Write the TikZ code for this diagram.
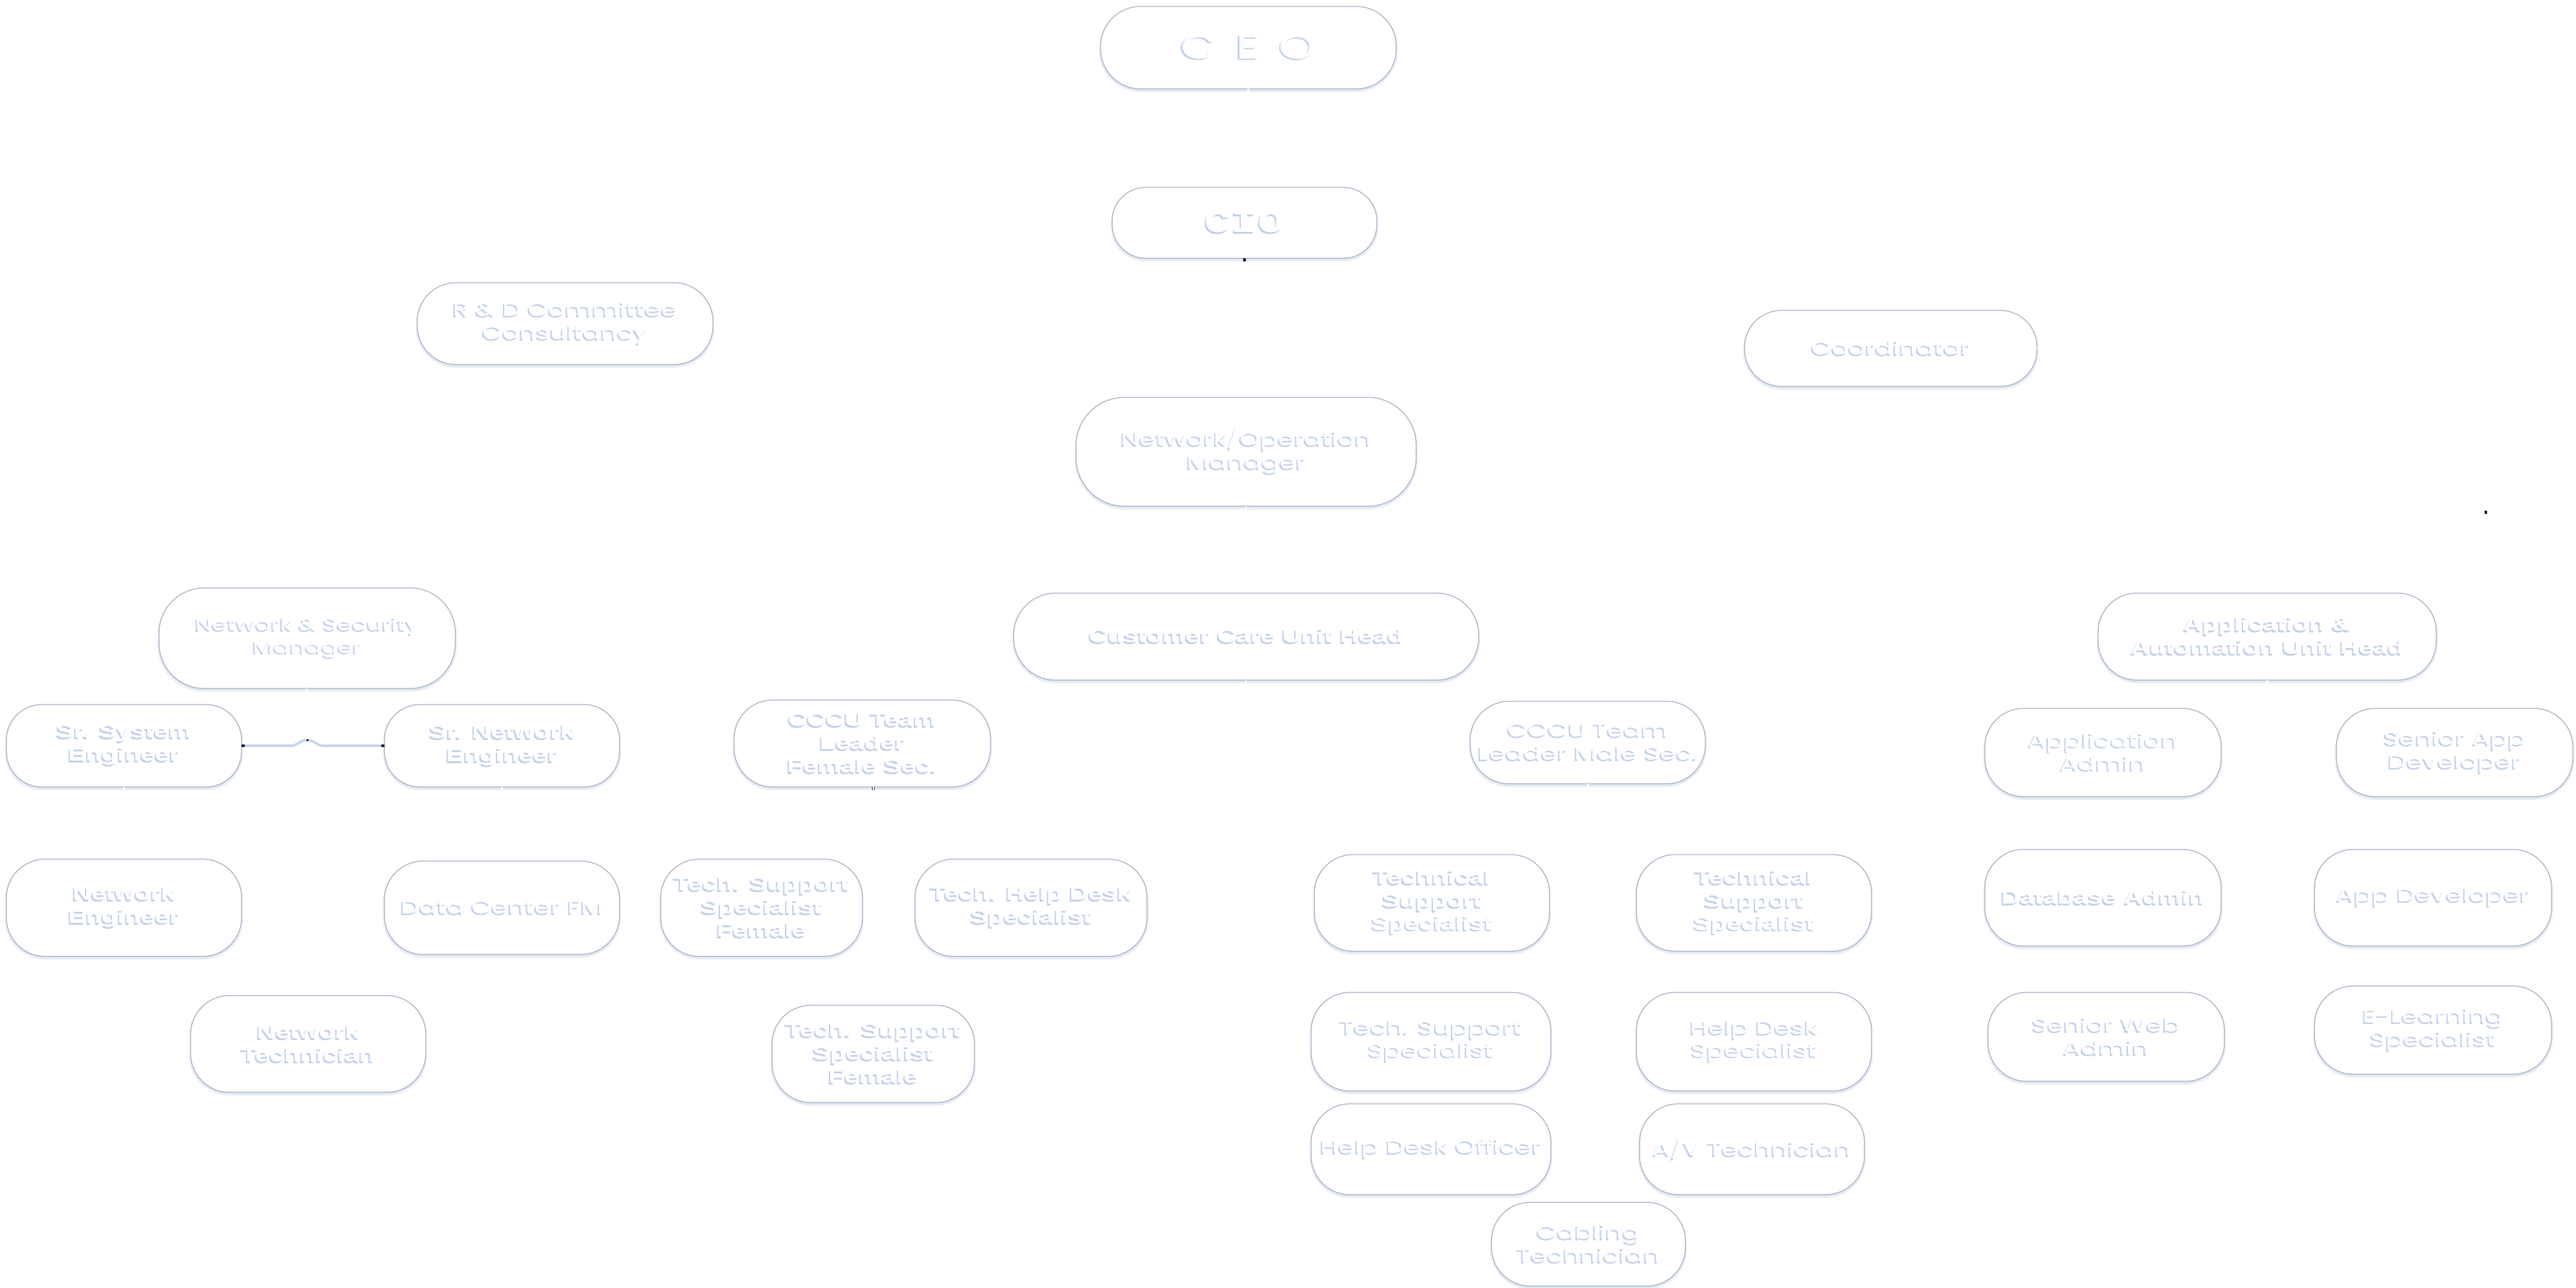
\documentclass[tikz,border=0pt]{standalone}
\usepackage{fontspec}
\usetikzlibrary{arrows.meta,shadows}
\newfontfamily\geo[FakeStretch=1.4]{Poppins}
\newfontfamily\ari[FakeStretch=1.35]{Liberation Sans}
\newfontfamily\cioface[FakeStretch=1.4]{Liberation Mono}
\definecolor{boxedge}{RGB}{168,178,194}
\definecolor{boxglow}{RGB}{212,222,239}
\definecolor{txtshade}{RGB}{196,210,234}
\definecolor{linkblue}{RGB}{200,213,234}
\definecolor{tipdark}{RGB}{26,34,51}
% white lettering with a pale blue drop shadow
\newcommand\shtxt[1]{\leavevmode\rlap{\kern-0.6pt\raisebox{-0.8pt}{\textcolor{txtshade}{#1}}}#1}
\tikzset{
  orgbox/.style={draw=boxedge, line width=0.35pt, fill=white, rounded corners=#1,
    inner sep=0pt, outer sep=0pt, align=center, text=white,
    drop shadow={shadow xshift=0pt, shadow yshift=-0.7pt, fill=boxglow, draw=boxglow, line width=1.4pt}},
  orgbox/.default=0.6cm,
  geotext/.style={font=\geo\fontsize{8.3}{10.2}\selectfont},
  aritext/.style={font=\ari\bfseries\fontsize{8.5}{10.2}\selectfont},
  wire/.style={draw=white, line width=0.8pt, shorten >=1.5pt},
  link/.style={draw=linkblue, line width=1.1pt},
  dotcap/.tip={Square[length=1.4pt,width=1.2pt,color=tipdark]},
}
\begin{document}
\begin{tikzpicture}
\fill[white] (0,0) rectangle (40,-20);
\useasboundingbox (0,0) rectangle (40,-20);

% top of the hierarchy
\node[orgbox=0.62cm, minimum width=4.59cm, minimum height=1.28cm, font=\geo\fontsize{15}{18}\selectfont] (ceo) at (19.385,-0.74) {\shtxt{C\hspace{0.55em}E\hspace{0.55em}O}};
\node[orgbox=0.52cm, minimum width=4.11cm, minimum height=1.10cm, font=\cioface\bfseries\fontsize{14}{16}\selectfont] (cio) at (19.325,-3.46) {\shtxt{CIO}};
\node[orgbox, geotext, minimum width=4.59cm, minimum height=1.27cm] (rnd) at (8.775,-5.025) {\shtxt{R \& D Committee}\\\shtxt{Consultancy}};
\node[orgbox=0.57cm, geotext, minimum width=4.54cm, minimum height=1.18cm] (coord) at (29.36,-5.41) {\shtxt{Coordinator}};
\node[orgbox=0.75cm, geotext, minimum width=5.28cm, minimum height=1.69cm] (netop) at (19.35,-7.015) {\shtxt{Network/Operation}\\\shtxt{Manager}};

% unit heads
\node[orgbox=0.7cm, font=\geo\fontsize{7.6}{10.2}\selectfont, minimum width=4.60cm, minimum height=1.56cm] (netsec) at (4.77,-9.91) {\shtxt{Network \& Security}\\\shtxt{Manager}};
\node[orgbox=0.65cm, aritext, minimum width=7.22cm, minimum height=1.35cm] (ccu) at (19.35,-9.885) {\shtxt{Customer Care Unit Head}};
\node[orgbox, aritext, minimum width=5.25cm, minimum height=1.35cm] (apphead) at (35.205,-9.885) {\shtxt{Application \&}\\\shtxt{Automation Unit Head}};

% second level
\node[orgbox=0.55cm, aritext, minimum width=3.65cm, minimum height=1.28cm] (sysEng) at (1.925,-11.58) {\shtxt{Sr. System}\\\shtxt{Engineer}};
\node[orgbox=0.55cm, aritext, minimum width=3.65cm, minimum height=1.28cm] (srNet) at (7.795,-11.58) {\shtxt{Sr. Network}\\\shtxt{Engineer}};
\node[orgbox, aritext, minimum width=3.98cm, minimum height=1.35cm] (cccuF) at (13.39,-11.545) {\shtxt{CCCU Team}\\\shtxt{Leader}\\\shtxt{Female Sec.}};
\node[orgbox, geotext, minimum width=3.65cm, minimum height=1.28cm] (cccuM) at (24.655,-11.53) {\shtxt{CCCU Team}\\\shtxt{Leader Male Sec.}};
\node[orgbox, geotext, minimum width=3.67cm, minimum height=1.37cm] (appAdmin) at (32.655,-11.685) {\shtxt{Application}\\\shtxt{Admin}};
\node[orgbox, geotext, minimum width=3.67cm, minimum height=1.37cm] (srAppDev) at (38.115,-11.685) {\shtxt{Senior App}\\\shtxt{Developer}};

% third level
\node[orgbox, aritext, minimum width=3.65cm, minimum height=1.51cm] (netEng) at (1.925,-14.095) {\shtxt{Network}\\\shtxt{Engineer}};
\node[orgbox, geotext, minimum width=3.65cm, minimum height=1.45cm] (dcfm) at (7.795,-14.095) {\shtxt{Data Center FM}};
\node[orgbox, aritext, minimum width=3.13cm, minimum height=1.51cm] (tssF1) at (11.825,-14.095) {\shtxt{Tech. Support}\\\shtxt{Specialist}\\\shtxt{Female}};
\node[orgbox, aritext, minimum width=3.60cm, minimum height=1.51cm] (thds) at (16.01,-14.095) {\shtxt{Tech. Help Desk}\\\shtxt{Specialist}};
\node[orgbox, aritext, minimum width=3.65cm, minimum height=1.50cm] (tss1) at (22.235,-14.02) {\shtxt{Technical}\\\shtxt{Support}\\\shtxt{Specialist}};
\node[orgbox, aritext, minimum width=3.65cm, minimum height=1.50cm] (tss2) at (27.235,-14.02) {\shtxt{Technical}\\\shtxt{Support}\\\shtxt{Specialist}};
\node[orgbox, aritext, minimum width=3.67cm, minimum height=1.50cm] (dba) at (32.655,-13.94) {\shtxt{Database Admin}};
\node[orgbox, geotext, minimum width=3.68cm, minimum height=1.50cm] (appDev) at (37.78,-13.94) {\shtxt{App Developer}};

% fourth level
\node[orgbox, aritext, minimum width=3.65cm, minimum height=1.50cm] (netTech) at (4.785,-16.21) {\shtxt{Network}\\\shtxt{Technician}};
\node[orgbox, aritext, minimum width=3.14cm, minimum height=1.51cm] (tssF2) at (13.56,-16.365) {\shtxt{Tech. Support}\\\shtxt{Specialist}\\\shtxt{Female}};
\node[orgbox, geotext, minimum width=3.72cm, minimum height=1.53cm] (tss3) at (22.22,-16.175) {\shtxt{Tech. Support}\\\shtxt{Specialist}};
\node[orgbox, geotext, minimum width=3.65cm, minimum height=1.53cm] (hds) at (27.235,-16.175) {\shtxt{Help Desk}\\\shtxt{Specialist}};
\node[orgbox, geotext, minimum width=3.67cm, minimum height=1.38cm] (webAdmin) at (32.705,-16.10) {\shtxt{Senior Web}\\\shtxt{Admin}};
\node[orgbox, geotext, minimum width=3.68cm, minimum height=1.37cm] (elearn) at (37.78,-15.995) {\shtxt{E-Learning}\\\shtxt{Specialist}};
\node[orgbox, geotext, minimum width=3.72cm, minimum height=1.41cm] (hdo) at (22.22,-17.845) {\shtxt{Help Desk Officer}};
\node[orgbox, geotext, minimum width=3.49cm, minimum height=1.41cm] (av) at (27.205,-17.845) {\shtxt{A/V Technician}};
\node[orgbox, geotext, minimum width=3.01cm, minimum height=1.30cm] (cabling) at (24.665,-19.32) {\shtxt{Cabling}\\\shtxt{Technician}};

\coordinate (stub) at (38.60,-7.98);

% reporting lines (white on white)
\draw[wire] (ceo.south) -- (cio.north);
\draw[wire, dotcap-] (cio.south) -- (netop.north);
\draw[wire] (cio.south |- rnd.east) -- (rnd.east);
\draw[wire] (cio.south |- coord.west) -- (coord.west);
\draw[wire, shorten >=0pt, -dotcap] (coord.east) -| (stub);
\draw[wire] (netop.south) -- ++(0,-0.64) -| (netsec.north);
\draw[wire] (netop.south) -- (ccu.north);
\draw[wire] (netop.south) -- ++(0,-0.64) -| (apphead.north);

\draw[wire] (netsec.south) -- ++(0,-0.12) -| (sysEng.north);
\draw[wire] (netsec.south) -- ++(0,-0.12) -| (srNet.north);
\draw[wire] (netsec.south) -- (netsec.south |- netTech.north);
\draw[wire] (sysEng.south) -- (netEng.north);
\draw[wire] (srNet.south) -- (dcfm.north);

\draw[wire] (ccu.south) -- ++(0,-0.15) -| (cccuF.north);
\draw[wire] (ccu.south) -- ++(0,-0.15) -| (cccuM.north);

\draw[wire, dotcap-] (cccuF.south -| tssF2.north) |- (tssF1.east);
\draw[wire] (cccuF.south -| tssF2.north) |- (thds.west);
\draw[wire] (cccuF.south -| tssF2.north) -- (tssF2.north);

\draw[wire] (cccuM.south) |- (tss1.east);
\draw[wire] (cccuM.south) |- (tss2.west);
\draw[wire] (cccuM.south) |- (tss3.east);
\draw[wire] (cccuM.south) |- (hds.west);
\draw[wire] (cccuM.south) |- (hdo.east);
\draw[wire] (cccuM.south) |- (av.west);
\draw[wire] (cccuM.south) -- (cccuM.south |- cabling.north);

\draw[wire] (apphead.south) |- (appAdmin.east);
\draw[wire] (apphead.south) |- (srAppDev.west);
\draw[wire] (apphead.south) |- (dba.east);
\draw[wire] (apphead.south) |- (appDev.west);
\draw[wire] (apphead.south) |- (webAdmin.east);
\draw[wire] (apphead.south) |- (elearn.west);

% peer link between the two senior engineers, hopping over the vertical line
\draw[link, dotcap-dotcap] (sysEng.east) -- (4.52,-11.58)
  .. controls (4.62,-11.58) and (4.66,-11.49) .. (4.77,-11.49)
  .. controls (4.88,-11.49) and (4.92,-11.58) .. (5.02,-11.58) -- (srNet.west);
\fill[tipdark] (4.755,-11.505) rectangle (4.785,-11.478);
\end{tikzpicture}
\end{document}
